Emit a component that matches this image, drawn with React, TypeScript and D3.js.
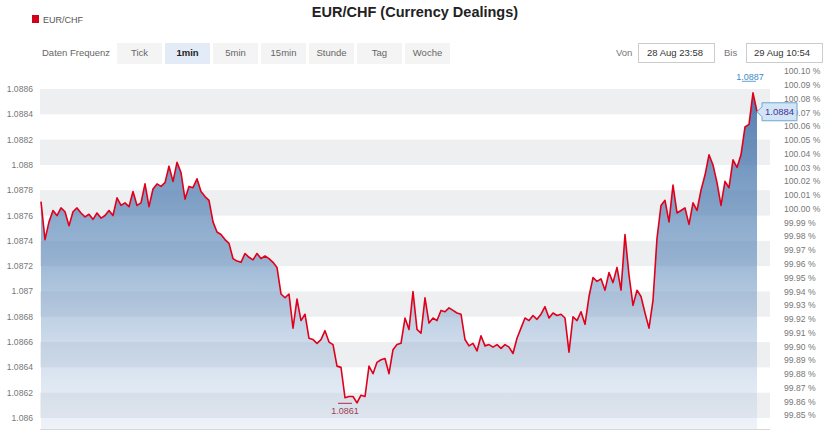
import React from "react";
import * as d3 from "d3";

const title = "EUR/CHF (Currency Dealings)";
const seriesName = "EUR/CHF";
const frequencyLabel = "Daten Frequenz";
const frequencies = ["Tick", "1min", "5min", "15min", "Stunde", "Tag", "Woche"];
const activeFrequency = "1min";
const fromLabel = "Von";
const fromValue = "28 Aug 23:58";
const toLabel = "Bis";
const toValue = "29 Aug 10:54";

// EUR/CHF 1-minute series, 28 Aug 23:58 -> 29 Aug 10:54 (sampled)
const prices = [
  1.08771, 1.08741, 1.08755, 1.08764, 1.0876, 1.08766, 1.08763, 1.08752, 1.08763, 1.08766,
  1.08762, 1.08759, 1.08761, 1.08757, 1.08762, 1.08758, 1.0876, 1.08764, 1.0876, 1.08774,
  1.08768, 1.0877, 1.08767, 1.08779, 1.08768, 1.0877, 1.08785, 1.08767, 1.08781, 1.08785,
  1.08783, 1.08786, 1.08799, 1.08787, 1.08802, 1.08794, 1.08773, 1.08783, 1.08782, 1.08789,
  1.08779, 1.08775, 1.08772, 1.08755, 1.08747, 1.08745, 1.08741, 1.08738, 1.08726, 1.08724,
  1.08723, 1.0873, 1.08727, 1.08725, 1.0873, 1.08726, 1.08728, 1.08726, 1.08723, 1.08719,
  1.08698, 1.08695, 1.08698, 1.08671, 1.08694, 1.08677, 1.08682, 1.08663, 1.08662, 1.08659,
  1.08662, 1.08669, 1.0866, 1.08658, 1.08641, 1.0864, 1.08616, 1.08617, 1.08617, 1.08612,
  1.08618, 1.08617, 1.08641, 1.08635, 1.08644, 1.08646, 1.08647, 1.08635, 1.08654, 1.08658,
  1.08659, 1.08679, 1.0867, 1.087, 1.0867, 1.08667, 1.08695, 1.08675, 1.08679, 1.08677,
  1.08685, 1.08684, 1.08687, 1.08685, 1.08683, 1.08682, 1.08662, 1.08657, 1.08659, 1.08653,
  1.08665, 1.08657, 1.08658, 1.08656, 1.08658, 1.08655, 1.08658, 1.08656, 1.08651, 1.08663,
  1.08671, 1.08679, 1.08677, 1.08681, 1.08678, 1.08682, 1.08688, 1.08679, 1.08683, 1.08681,
  1.08682, 1.08679, 1.08652, 1.0868, 1.08677, 1.08684, 1.08674, 1.08696, 1.08711, 1.08708,
  1.0871, 1.08701, 1.08715, 1.08707, 1.08719, 1.08701, 1.08745, 1.08713, 1.08689, 1.08701,
  1.08696, 1.08683, 1.08671, 1.08693, 1.08742, 1.08768, 1.08772, 1.08755, 1.08784, 1.08762,
  1.08764, 1.08766, 1.08753, 1.0877, 1.08764, 1.0878, 1.08792, 1.08808, 1.088, 1.08786,
  1.08768, 1.08787, 1.08782, 1.08804, 1.08798, 1.08808, 1.0883, 1.08832, 1.08857, 1.08842,
];

const leftTicks = [
  1.086, 1.0862, 1.0864, 1.0866, 1.0868, 1.087, 1.0872, 1.0874, 1.0876, 1.0878, 1.088, 1.0882,
  1.0884, 1.0886,
];
const pctTicks = [
  99.85, 99.86, 99.87, 99.88, 99.89, 99.9, 99.91, 99.92, 99.93, 99.94, 99.95, 99.96, 99.97,
  99.98, 99.99, 100.0, 100.01, 100.02, 100.03, 100.04, 100.05, 100.06, 100.07, 100.08, 100.09,
  100.1,
];
const basePrice = 1.087652;
const maxLabel = "1.0887";
const minLabel = "1.0861";
const lastLabel = "1.0884";

const FONT = "'Liberation Sans', Arial, Helvetica, sans-serif";

export default function App() {
  const W = 830;
  const H = 443;
  const plotLeft = 40;
  const plotRight = 770;
  const plotBottom = 429;

  const x = d3.scaleLinear().domain([0, prices.length - 1]).range([41, 757]);
  const y = d3.scaleLinear().domain([1.086, 1.0886]).range([418, 89]);

  const area = d3
    .area<number>()
    .x((_, i) => x(i))
    .y0(plotBottom)
    .y1((d) => y(d))
    .curve(d3.curveLinear);
  const line = d3
    .line<number>()
    .x((_, i) => x(i))
    .y((d) => y(d));

  const bands: [number, number][] = [];
  for (let i = 0; i + 1 < leftTicks.length; i += 2) bands.push([leftTicks[i], leftTicks[i + 1]]);

  const fmtLeft = (v: number) => String(parseFloat(v.toFixed(4)));
  const fmtPct = (p: number) => p.toFixed(2) + " %";
  const yPct = (p: number) => y((basePrice * p) / 100);

  const maxIdx = d3.maxIndex(prices);
  const minIdx = d3.minIndex(prices);
  const lastIdx = prices.length - 1;
  const lx = x(lastIdx);
  const ly = y(prices[lastIdx]);

  const btnX0 = 117;
  const btnStep = 48;
  const btnW = 45;

  const tipL = lx + 5;
  const tipR = lx + 40;
  const tipPath = `M${lx},${ly} L${tipL},${ly - 5} L${tipL},${ly - 9} L${tipR},${ly - 9} L${tipR},${ly + 9} L${tipL},${ly + 9} L${tipL},${ly + 5} Z`;

  return (
    <svg
      width={W}
      height={H}
      style={{ position: "absolute", left: 0, top: 0, background: "#fff" }}
      fontFamily={FONT}
    >
      <defs>
        <linearGradient id="fillGrad" gradientUnits="userSpaceOnUse" x1="0" y1={89} x2="0" y2={plotBottom}>
          <stop offset="0" stopColor="rgb(50,100,160)" stopOpacity={0.85} />
          <stop offset="0.5" stopColor="rgb(90,135,185)" stopOpacity={0.6} />
          <stop offset="1" stopColor="rgb(170,195,225)" stopOpacity={0.2} />
        </linearGradient>
      </defs>

      {/* title & legend */}
      <text x={415} y={17} textAnchor="middle" fontSize={14.5} fontWeight="bold" fill="#222">
        {title}
      </text>
      <rect x={32} y={15} width={7} height={8} fill="#d0021b" />
      <text x={43} y={22.5} fontSize={9} fill="#555">
        {seriesName}
      </text>

      {/* frequency buttons */}
      <text x={42} y={56} fontSize={9.5} fill="#666">
        {frequencyLabel}
      </text>
      {frequencies.map((f, i) => {
        const active = f === activeFrequency;
        const bx = btnX0 + i * btnStep;
        return (
          <g key={f}>
            <rect x={bx} y={43} width={btnW} height={21} fill={active ? "#e3ebf6" : "#f4f4f4"} />
            <text
              x={bx + btnW / 2}
              y={56}
              textAnchor="middle"
              fontSize={9.5}
              fontWeight={active ? "bold" : "normal"}
              fill={active ? "#222" : "#666"}
            >
              {f}
            </text>
          </g>
        );
      })}

      {/* date range */}
      <text x={616} y={56} fontSize={9.5} fill="#777">
        {fromLabel}
      </text>
      <rect x={638.5} y={43.5} width={76} height={19} fill="#fff" stroke="#ccc" />
      <text x={647} y={56} fontSize={9.5} fill="#333">
        {fromValue}
      </text>
      <text x={724} y={56} fontSize={9.5} fill="#777">
        {toLabel}
      </text>
      <rect x={746.5} y={43.5} width={76} height={19} fill="#fff" stroke="#ccc" />
      <text x={754} y={56} fontSize={9.5} fill="#333">
        {toValue}
      </text>

      {/* bands */}
      {bands.map(([a, b], i) => (
        <rect key={i} x={plotLeft} y={y(b)} width={plotRight - plotLeft} height={y(a) - y(b)} fill="#eeeff1" />
      ))}

      {/* area + line */}
      <path d={area(prices) || ""} fill="url(#fillGrad)" />
      <path d={line(prices) || ""} fill="none" stroke="#e0001b" strokeWidth={1.6} strokeLinejoin="round" />

      {/* bottom axis line */}
      <line x1={plotLeft} x2={plotRight} y1={plotBottom + 0.5} y2={plotBottom + 0.5} stroke="#d8d8dc" />

      {/* left axis */}
      {leftTicks.map((t) => (
        <text key={t} x={33} y={y(t)} dy="0.35em" textAnchor="end" fontSize={8.6} fill="#777">
          {fmtLeft(t)}
        </text>
      ))}

      {/* right axis */}
      {pctTicks.map((p) => (
        <text key={p} x={784} y={yPct(p)} dy="0.35em" fontSize={8.6} fill="#777">
          {fmtPct(p)}
        </text>
      ))}

      {/* max label */}
      <text x={x(maxIdx) - 3} y={y(prices[maxIdx]) - 13} textAnchor="middle" fontSize={9} fill="#3b8bc6">
        {maxLabel}
      </text>
      <line
        x1={x(maxIdx) - 11}
        x2={x(maxIdx) + 3}
        y1={y(prices[maxIdx]) - 11.5}
        y2={y(prices[maxIdx]) - 11.5}
        stroke="#3b8bc6"
        strokeWidth={0.8}
      />

      {/* min label */}
      <line
        x1={x(minIdx) - 19}
        x2={x(minIdx) - 5}
        y1={y(prices[minIdx]) + 0.5}
        y2={y(prices[minIdx]) + 0.5}
        stroke="#b8283c"
        strokeWidth={1}
      />
      <text x={x(minIdx) - 12} y={y(prices[minIdx]) + 11} textAnchor="middle" fontSize={9} fill="#a0404f">
        {minLabel}
      </text>

      {/* last value tooltip */}
      <path d={tipPath} fill="#cfe4f4" fillOpacity={0.95} stroke="#6fa6d2" strokeWidth={1} />
      <text x={(tipL + tipR) / 2} y={ly} dy="0.35em" textAnchor="middle" fontSize={9.5} fill="#4b2f99">
        {lastLabel}
      </text>
    </svg>
  );
}
